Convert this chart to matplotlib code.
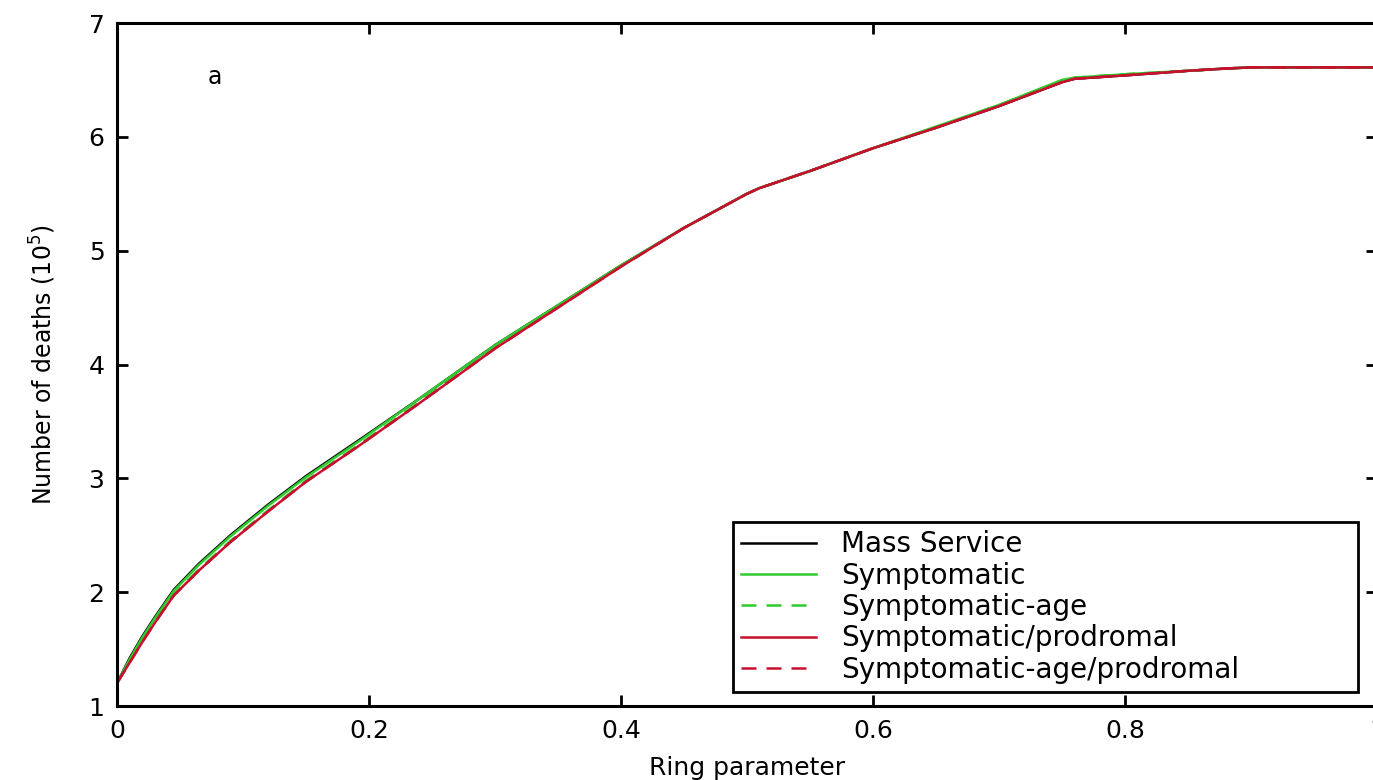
import matplotlib.pyplot as plt

# Ring vaccination results: deaths vs ring parameter
ring = [0, 0.01, 0.02, 0.03, 0.045, 0.065, 0.09, 0.12, 0.15, 0.19, 0.24, 0.3, 0.35,
        0.4, 0.45, 0.5, 0.51, 0.55, 0.6, 0.65, 0.7, 0.75, 0.76, 0.8, 0.85, 0.88, 0.9, 1.0]

mass_service = [1.20, 1.42, 1.61, 1.78, 2.02, 2.25, 2.50, 2.77, 3.02, 3.32, 3.70, 4.17, 4.52,
                4.87, 5.20, 5.50, 5.55, 5.70, 5.90, 6.08, 6.27, 6.48, 6.51, 6.54, 6.58, 6.60, 6.61, 6.61]
symptomatic = [1.20, 1.41, 1.60, 1.77, 2.01, 2.24, 2.49, 2.76, 3.01, 3.31, 3.70, 4.17, 4.52,
               4.87, 5.20, 5.50, 5.55, 5.70, 5.90, 6.09, 6.28, 6.50, 6.52, 6.55, 6.58, 6.60, 6.61, 6.61]
symptomatic_age = [1.20, 1.39, 1.57, 1.74, 1.98, 2.20, 2.45, 2.72, 2.98, 3.28, 3.67, 4.15, 4.51,
                   4.87, 5.20, 5.50, 5.55, 5.70, 5.90, 6.08, 6.28, 6.49, 6.52, 6.55, 6.58, 6.60, 6.61, 6.61]
symptomatic_prod = [1.20, 1.38, 1.56, 1.73, 1.97, 2.19, 2.44, 2.71, 2.97, 3.27, 3.66, 4.14, 4.50,
                    4.86, 5.20, 5.50, 5.55, 5.70, 5.90, 6.08, 6.27, 6.48, 6.51, 6.54, 6.58, 6.60, 6.61, 6.61]
symptomatic_age_prod = [1.20, 1.38, 1.56, 1.73, 1.97, 2.19, 2.44, 2.71, 2.97, 3.27, 3.66, 4.14, 4.50,
                        4.86, 5.20, 5.50, 5.55, 5.70, 5.90, 6.08, 6.27, 6.48, 6.51, 6.54, 6.58, 6.60, 6.61, 6.61]

labels = ['Mass Service', 'Symptomatic', 'Symptomatic-age',
          'Symptomatic/prodromal', 'Symptomatic-age/prodromal']

GREEN = '#2ecc2e'
RED = '#c8102e'

plt.rcParams['font.family'] = ['DejaVu Sans']

fig = plt.figure(figsize=(13.73, 7.8), dpi=100)
ax = fig.add_axes([117 / 1373, 74 / 780, 1260 / 1373, 683 / 780])

ax.plot(ring, mass_service, color='black', lw=1.8, label=labels[0])
ax.plot(ring, symptomatic, color=GREEN, lw=1.8, label=labels[1])
ax.plot(ring, symptomatic_age, color=GREEN, lw=1.8, dashes=(6, 4), label=labels[2])
ax.plot(ring, symptomatic_prod, color=RED, lw=1.8, label=labels[3])
ax.plot(ring, symptomatic_age_prod, color=RED, lw=1.8, dashes=(6, 4), label=labels[4])

ax.set_xlim(0, 1)
ax.set_ylim(1, 7)
ax.set_xticks([0, 0.2, 0.4, 0.6, 0.8, 1.0])
ax.set_xticklabels(['0', '0.2', '0.4', '0.6', '0.8', '1'])
ax.set_yticks(range(1, 8))

for s in ax.spines.values():
    s.set_linewidth(2.2)
ax.tick_params(direction='in', length=8, width=2, top=True, right=True,
               labelsize=18, pad=9)

ax.set_xlabel('Ring parameter', fontsize=18, labelpad=10)
ax.set_ylabel('Number of deaths ($10^5$)', fontsize=17, labelpad=22)

ax.text(0.078, 6.53, 'a', fontsize=17, ha='center', va='center')

# legend box stretched to the right edge of its frame
leg = ax.legend(loc='lower left', bbox_to_anchor=(0.489, 0.0205, 0.496, 0.25),
                mode='expand', borderaxespad=0,
                fontsize=20, handlelength=2.7, handletextpad=0.9, labelspacing=0.12,
                borderpad=0.3, fancybox=False, edgecolor='black', framealpha=1)
leg.get_frame().set_linewidth(2)

fig.savefig('out.png', dpi=100)
